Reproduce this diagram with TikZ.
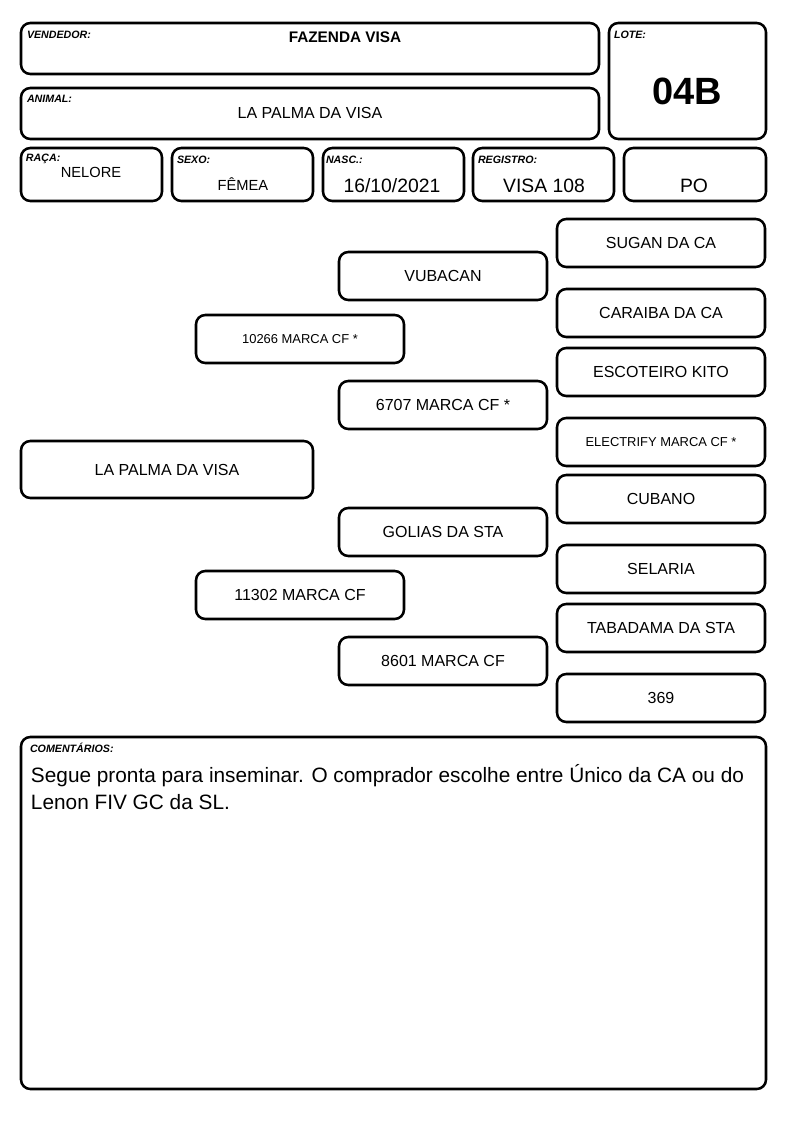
\documentclass[tikz,border=0pt]{standalone}
\usepackage{fontspec}
\setmainfont{Liberation Sans}
\begin{document}
\begin{tikzpicture}[x=0.75pt, y=-0.75pt,
  every node/.style={inner sep=0pt, outer sep=0pt},
  field/.style={draw, line width=1.9pt, rounded corners=7pt, anchor=north west, align=center},
  caption/.style={anchor=west, font=\fontsize{8}{9}\selectfont\bfseries\itshape},
  value/.style={font=\fontsize{12}{14}\selectfont},
  bigvalue/.style={font=\fontsize{14.5}{16}\selectfont},
  cell/.style={field, minimum width=105.75pt, minimum height=39.75pt},
  ped/.style={field, minimum width=156pt, minimum height=36pt, font=\fontsize{12}{14}\selectfont},
  smallped/.style={ped, font=\fontsize{9.7}{11}\selectfont},
]
\useasboundingbox (0,0) rectangle (794,1123);

\node[field, minimum width=433.5pt, minimum height=38.25pt] (vendedor) at (21,23) {};
\node[field, minimum width=433.5pt, minimum height=38.25pt] (animal) at (21,88) {};
\node[field, minimum width=117.75pt, minimum height=87pt] (lote) at (609,23) {};
\node[cell] (raca) at (21,148) {};
\node[cell] (sexo) at (172,148) {};
\node[cell] (nasc) at (323,148) {};
\node[cell] (registro) at (473,148) {};
\node[cell, minimum width=106.5pt] (categoria) at (624,148) {};

\node[caption] (vendedorcap) at (27,35) {VENDEDOR:};
\node[caption] (animalcap) at (27,99) {ANIMAL:};
\node[caption] (lotecap) at (614,35) {LOTE:};
\node[caption] (racacap) at (26,159) {RAÇA:};
\node[caption] (sexocap) at (177,160) {SEXO:};
\node[caption] (nasccap) at (326,160) {NASC.:};
\node[caption] (registrocap) at (478,160) {REGISTRO:};

\node[font=\fontsize{11.5}{13}\selectfont\bfseries] (vendedorval) at (345,37) {FAZENDA VISA};
\node[value] (animalval) at (310,113) {LA PALMA DA VISA};
\node[font=\fontsize{28.5}{30}\selectfont\bfseries] (loteval) at (687,91) {04B};
\node[font=\fontsize{11}{13}\selectfont] (racaval) at (91,172) {NELORE};
\node[font=\fontsize{11}{13}\selectfont] (sexoval) at (243,184) {FÊMEA};
\node[bigvalue] (nascval) at (392,186) {16/10/2021};
\node[bigvalue] (registroval) at (544,186) {VISA 108};
\node[bigvalue] (categoriaval) at (694,186) {PO};

\node[ped, minimum width=219pt, minimum height=42.75pt] (lapalma) at (21,441) {LA PALMA DA VISA};
\node[smallped] (n10266) at (196,315) {10266 MARCA CF *};
\node[ped] (n11302) at (196,571) {11302 MARCA CF};
\node[ped] (vubacan) at (339,252) {VUBACAN};
\node[ped] (n6707) at (339,381) {6707 MARCA CF *};
\node[ped] (golias) at (339,508) {GOLIAS DA STA};
\node[ped] (n8601) at (339,637) {8601 MARCA CF};
\node[ped] (sugan) at (557,219) {SUGAN DA CA};
\node[ped] (caraiba) at (557,289) {CARAIBA DA CA};
\node[ped] (escoteiro) at (557,348) {ESCOTEIRO KITO};
\node[smallped] (electrify) at (557,418) {ELECTRIFY MARCA CF *};
\node[ped] (cubano) at (557,475) {CUBANO};
\node[ped] (selaria) at (557,545) {SELARIA};
\node[ped] (tabadama) at (557,604) {TABADAMA DA STA};
\node[ped] (n369) at (557,674) {369};

\node[field, minimum width=558.75pt, minimum height=264pt] (comentarios) at (21,737) {};
\node[caption] (comentarioscap) at (30,748) {COMENTÁRIOS:};
\node[anchor=north west, align=left, font=\fontsize{15.6}{20.25}\selectfont] (comentariosval) at (31,764)
  {Segue pronta para inseminar. O comprador escolhe entre Único da CA ou do\\Lenon FIV GC da SL.};
\end{tikzpicture}
\end{document}
